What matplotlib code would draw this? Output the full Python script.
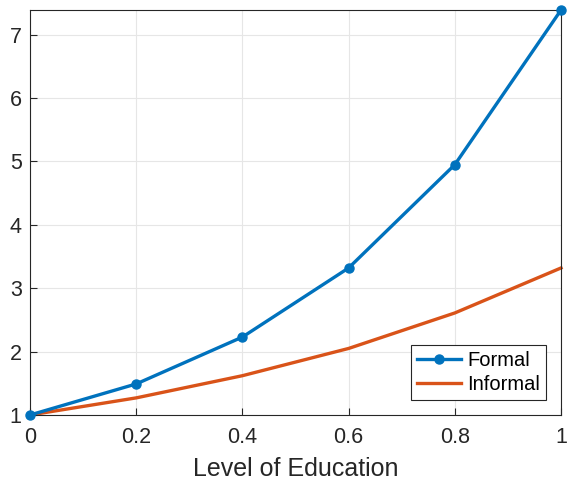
import matplotlib
matplotlib.use('Agg')
import matplotlib.pyplot as plt

plt.rcParams['font.family'] = ['Liberation Sans', 'DejaVu Sans']

education = [0, 0.2, 0.4, 0.6, 0.8, 1.0]
formal = [1.0, 1.49, 2.23, 3.32, 4.95, 7.39]
informal = [1.0, 1.27, 1.62, 2.05, 2.61, 3.32]

fig = plt.figure(figsize=(5.69, 4.88), dpi=100)
ax = fig.add_axes([0.0527, 0.1496, 0.9333, 0.8299])

ax.plot(education, formal, color='#0072BD', lw=2.4, marker='o', ms=6.5,
        label='Formal', clip_on=False, zorder=3)
ax.plot(education, informal, color='#D95319', lw=2.4, label='Informal',
        clip_on=False, zorder=2)

ax.set_xlim(0, 1)
ax.set_ylim(1, 7.39)
ax.set_xticks([0, 0.2, 0.4, 0.6, 0.8, 1])
ax.set_xticklabels(['0', '0.2', '0.4', '0.6', '0.8', '1'])
ax.set_yticks([1, 2, 3, 4, 5, 6, 7])
ax.grid(True, color='#e6e6e6', lw=0.8)
ax.set_axisbelow(True)
ax.tick_params(direction='in', labelsize=15.5, colors='#262626', length=5)
ax.tick_params(axis='x', pad=9)
ax.tick_params(axis='y', pad=6)
for s in ax.spines.values():
    s.set_color('#262626')
    s.set_linewidth(0.8)
ax.set_xlabel('Level of Education', fontsize=18, color='#262626', labelpad=6)

leg = ax.legend(loc='lower right', fontsize=14.5, fancybox=False, framealpha=1,
                edgecolor='#262626', borderpad=0.3, handlelength=2.2,
                labelspacing=0.25, handletextpad=0.3, borderaxespad=0.75)
leg.get_frame().set_linewidth(0.8)

fig.savefig('out.png', dpi=100)
